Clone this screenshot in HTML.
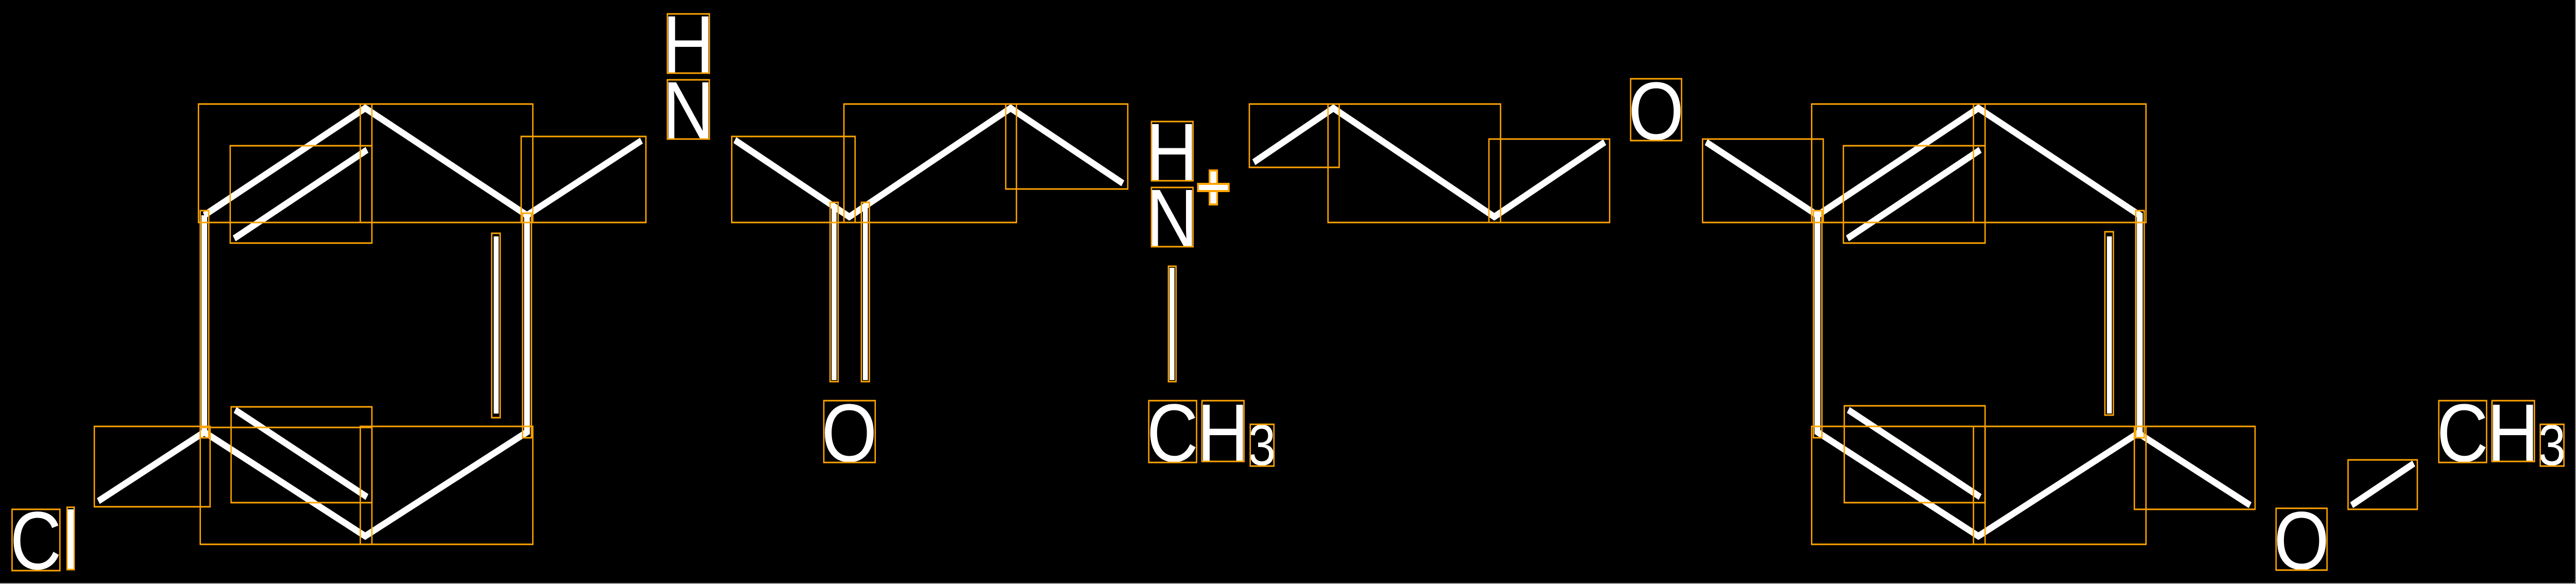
<!DOCTYPE html>
<html><head><meta charset="utf-8"><style>
html,body{margin:0;padding:0;background:#000;width:100%;height:100%;overflow:hidden;}
svg{display:block;position:absolute;left:0;top:0;}
text{font-family:"Liberation Sans",sans-serif;fill:#fff;}
</style></head><body>
<svg style="width:100vw;height:100vh" viewBox="0 0 5763 1134" preserveAspectRatio="none" xmlns="http://www.w3.org/2000/svg">
<rect width="5763" height="1134" fill="#000"/>
<line x1="0" y1="1133" x2="5763" y2="1133" stroke="#999" stroke-width="2"/>
<line x1="5762" y1="0" x2="5762" y2="1134" stroke="#999" stroke-width="2"/>
<g stroke="#fff" stroke-width="13" fill="none">
<polyline points="457,418 817,210 1179,418 1179,839 817,1041 457,839 457,418"/>
<line x1="524" y1="463" x2="821" y2="291"/>
<line x1="526" y1="796" x2="821" y2="965"/>
<line x1="1110" y1="459" x2="1110" y2="803" stroke-width="11"/>
<line x1="220" y1="973" x2="457" y2="839"/>
<line x1="1179" y1="418" x2="1435" y2="273"/>
<polyline points="1644,272 1900,421 2261,210 2512,356"/>
<line x1="1866" y1="396" x2="1866" y2="738" stroke-width="11"/>
<line x1="1936" y1="396" x2="1936" y2="738" stroke-width="11"/>
<line x1="2622" y1="520" x2="2622" y2="738" stroke-width="11"/>
<polyline points="2805,315 2983,210 3343,421 3590,276"/>
<line x1="3817" y1="276" x2="4066" y2="418"/>
<polyline points="4066,418 4426,210 4787,418 4787,839 4426,1041 4066,839 4066,418"/>
<line x1="4133" y1="463" x2="4430" y2="291"/>
<line x1="4135" y1="796" x2="4430" y2="965"/>
<line x1="4719" y1="459" x2="4719" y2="803" stroke-width="11"/>
<line x1="4787" y1="843" x2="5034" y2="981"/>
<line x1="5261" y1="981" x2="5400" y2="900"/>
</g>
<g stroke="#FFA500" stroke-width="4" fill="#fff">
<rect x="2706" y="331" width="17" height="66"/>
<rect x="2680" y="357" width="69" height="14"/>
</g>
<g font-size="160" text-anchor="middle">
<text x="80" y="1105">C</text>
<text x="158" y="1105">l</text>
<text x="1540" y="142">H</text>
<text x="1540" y="270">N</text>
<text x="1900" y="896">O</text>
<text x="2622" y="351">H</text>
<text x="2622" y="479">N</text>
<text x="2623" y="896">C</text>
<text x="2736" y="896">H</text>
<text x="2823" y="903" font-size="112">3</text>
<text x="3705" y="271">O</text>
<text x="5149" y="1105">O</text>
<text x="5509" y="896">C</text>
<text x="5622" y="896">H</text>
<text x="5709" y="903" font-size="112">3</text>
</g>
<g stroke="#FFA500" stroke-width="3" fill="none">
<rect x="444" y="202" width="388" height="230"/>
<rect x="806" y="202" width="386" height="230"/>
<rect x="515" y="283" width="317" height="189"/>
<rect x="1166" y="265" width="279" height="167"/>
<rect x="448" y="409" width="19" height="441"/>
<rect x="1169" y="414" width="20" height="436"/>
<rect x="1100" y="453" width="19" height="358"/>
<rect x="211" y="828" width="259" height="156"/>
<rect x="517" y="790" width="315" height="186"/>
<rect x="448" y="830" width="384" height="227"/>
<rect x="806" y="828" width="386" height="229"/>
<rect x="27" y="989" width="107" height="119"/>
<rect x="150" y="985" width="16" height="121"/>
<rect x="1493" y="27" width="94" height="115"/>
<rect x="1493" y="155" width="94" height="115"/>
<rect x="1637" y="265" width="276" height="167"/>
<rect x="1888" y="202" width="386" height="230"/>
<rect x="2250" y="202" width="273" height="165"/>
<rect x="1857" y="393" width="18" height="348"/>
<rect x="1927" y="393" width="18" height="348"/>
<rect x="1843" y="778" width="115" height="120"/>
<rect x="2576" y="236" width="93" height="115"/>
<rect x="2576" y="364" width="93" height="115"/>
<rect x="2614" y="517" width="17" height="224"/>
<rect x="2570" y="778" width="107" height="120"/>
<rect x="2689" y="778" width="94" height="118"/>
<rect x="2797" y="824" width="53" height="81"/>
<rect x="2795" y="202" width="201" height="123"/>
<rect x="2971" y="202" width="386" height="230"/>
<rect x="3331" y="270" width="270" height="162"/>
<rect x="3648" y="153" width="114" height="120"/>
<rect x="3809" y="270" width="270" height="162"/>
<rect x="4053" y="202" width="388" height="230"/>
<rect x="4415" y="202" width="386" height="230"/>
<rect x="4124" y="283" width="317" height="189"/>
<rect x="4057" y="409" width="19" height="441"/>
<rect x="4778" y="409" width="19" height="441"/>
<rect x="4709" y="450" width="19" height="356"/>
<rect x="4126" y="788" width="315" height="188"/>
<rect x="4053" y="828" width="388" height="229"/>
<rect x="4415" y="828" width="386" height="229"/>
<rect x="4775" y="828" width="270" height="161"/>
<rect x="5092" y="987" width="114" height="120"/>
<rect x="5253" y="893" width="155" height="96"/>
<rect x="5456" y="778" width="107" height="120"/>
<rect x="5575" y="778" width="95" height="118"/>
<rect x="5683" y="824" width="53" height="81"/>
</g>
</svg>
</body></html>
